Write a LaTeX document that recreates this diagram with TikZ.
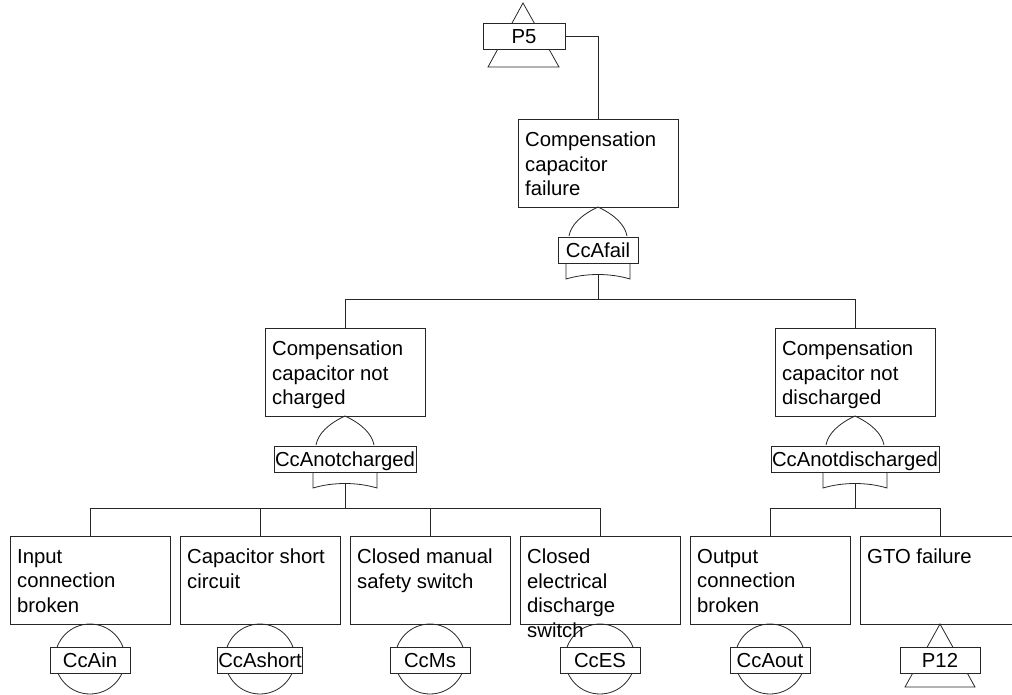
\documentclass[tikz,border=0pt]{standalone}
\usepackage{fontspec}
\setmainfont{Liberation Sans}
\usetikzlibrary{calc}

\tikzset{
  ln/.style={line width=0.8pt, draw=black!85},
  evbox/.style={ln, rectangle, minimum width=160pt, minimum height=88pt, inner sep=0pt},
  evtext/.style={anchor=north west, inner sep=0pt, align=left,
                 font=\fontsize{20.3}{24.5}\selectfont},
  tag/.style={ln, rectangle, fill=white, minimum width=80pt, minimum height=26pt,
              inner xsep=1pt, inner ysep=0pt, text height=14.5pt, text depth=0pt,
              font=\fontsize{20.3}{24.5}\selectfont},
}

% OR gate hanging below an event box: name, centre x, top y, label
\newcommand\orgate[4]{%
  \draw[ln] (#2,#3) .. controls (#2-17,#3+8) and (#2-27,#3+18) .. (#2-29,#3+29);
  \draw[ln] (#2,#3) .. controls (#2+17,#3+8) and (#2+27,#3+18) .. (#2+29,#3+29);
  \draw[ln] (#2-32,#3+56) -- (#2-32,#3+72)
     .. controls (#2-12,#3+66) and (#2+12,#3+66) .. (#2+32,#3+72) -- (#2+32,#3+56);
  \node[tag] (#1) at (#2,#3+43) {#4};
  \coordinate (#1-out) at (#2,#3+67.5);
}

% basic event circle with its tag: name, centre x, label
\newcommand\basicev[3]{%
  \draw[ln] (#2,659) circle[radius=35];
  \node[tag] (#1) at (#2,660) {#3};
}

\begin{document}
\begin{tikzpicture}[x=1pt, y=-1pt]
\useasboundingbox (0,0) rectangle (1012,695);

% transfer-in symbol P5
\draw[ln] (523,3) -- (559,67) -- (488,67) -- cycle;
\node[tag, minimum width=82pt] (p5) at (524,36) {P5};

% top event
\node[evbox] (top) at (598,163) {};
\node[evtext] (top-t) at (525,132) {Compensation\\capacitor\\failure};
\draw[ln] (p5.east) -| (top.north);
\orgate{g0}{598}{207}{CcAfail}

% intermediate events
\node[evbox] (m1) at (345,372) {};
\node[evtext] (m1-t) at (272,341) {Compensation\\capacitor not\\charged};
\node[evbox] (m2) at (855,372) {};
\node[evtext] (m2-t) at (782,341) {Compensation\\capacitor not\\discharged};
\draw[ln] (g0-out) -- ++(0,24.5) -| (m1.north);
\draw[ln] (g0-out) -- ++(0,24.5) -| (m2.north);

\orgate{g1}{345}{416}{CcAnotcharged}
\orgate{g2}{855}{416}{CcAnotdischarged}

% bottom events
\node[evbox] (b1) at (90,580) {};
\node[evtext] (b1-t) at (17,549) {Input\\connection\\broken};
\node[evbox] (b2) at (260,580) {};
\node[evtext] (b2-t) at (187,549) {Capacitor short\\circuit};
\node[evbox] (b3) at (430,580) {};
\node[evtext] (b3-t) at (357,549) {Closed manual\\safety switch};
\node[evbox] (b4) at (600,580) {};
\node[evbox] (b5) at (770,580) {};
\node[evtext] (b5-t) at (697,549) {Output\\connection\\broken};
\node[evbox] (b6) at (940,580) {};
\node[evtext] (b6-t) at (867,549) {GTO failure};

\foreach \c in {b1,b2,b3,b4}
  \draw[ln] (g1-out) -- ++(0,24.5) -| (\c.north);
\foreach \c in {b5,b6}
  \draw[ln] (g2-out) -- ++(0,24.5) -| (\c.north);

% basic events
\basicev{e1}{90}{CcAin}
\basicev{e2}{260}{CcAshort}
\basicev{e3}{430}{CcMs}
\basicev{e4}{600}{CcES}
\basicev{e5}{770}{CcAout}
\node[evtext] (b4-t) at (527,549) {Closed\\electrical\\discharge\\switch};

% transfer-in symbol P12
\draw[ln] (940,624) -- (975,687) -- (905,687) -- cycle;
\node[tag] (p12) at (940,660) {P12};
\end{tikzpicture}
\end{document}
